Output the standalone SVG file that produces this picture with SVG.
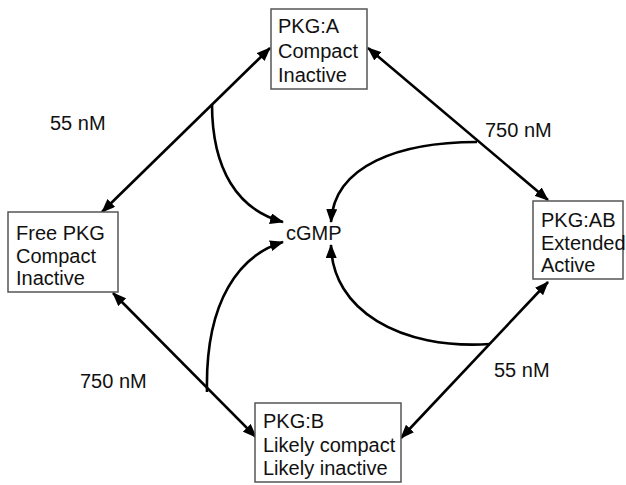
<svg xmlns="http://www.w3.org/2000/svg" width="626" height="485" viewBox="0 0 626 485">
<style>
.box{fill:#fff;stroke:#555;stroke-width:1.5}
.t{font-family:"Liberation Sans",Arial,sans-serif;font-size:20px;fill:#111}
.c{fill:none;stroke:#000;stroke-width:2.6}
</style>
<defs>
<marker id="ah" viewBox="0 0 14 11" refX="13" refY="5.5" markerWidth="14" markerHeight="11" markerUnits="userSpaceOnUse" orient="auto-start-reverse">
<path d="M0,0 L14,5.5 L0,11 z" fill="#000"/>
</marker>
</defs>
<rect width="626" height="485" fill="#fff"/>
<g id="connectors">
<path class="c" d="M270,48 L102,212" marker-start="url(#ah)" marker-end="url(#ah)"/>
<path class="c" d="M368,48 L548,200" marker-start="url(#ah)" marker-end="url(#ah)"/>
<path class="c" d="M548,282 L401,438" marker-start="url(#ah)" marker-end="url(#ah)"/>
<path class="c" d="M113,293 L256,437" marker-start="url(#ah)" marker-end="url(#ah)"/>
<path class="c" d="M212,104 C212,170 238,210 283,222" marker-end="url(#ah)"/>
<path class="c" d="M477,142 C400,142 334,165 331,222" marker-end="url(#ah)"/>
<path class="c" d="M490,344 C400,350 332,310 331,245" marker-end="url(#ah)"/>
<path class="c" d="M207,392 C205,300 240,255 283,242" marker-end="url(#ah)"/>
</g>
<g id="pkgA">
<rect class="box" x="271" y="9" width="96" height="80"/>
<text class="t" x="278" y="33">PKG:A</text>
<text class="t" x="278" y="58">Compact</text>
<text class="t" x="278" y="82">Inactive</text>
</g>
<g id="freePKG">
<rect class="box" x="8" y="212" width="110" height="80"/>
<text class="t" x="16" y="240">Free PKG</text>
<text class="t" x="16" y="263">Compact</text>
<text class="t" x="16" y="285">Inactive</text>
</g>
<g id="pkgAB">
<rect class="box" x="533" y="201" width="90" height="78"/>
<text class="t" x="541" y="227">PKG:AB</text>
<text class="t" x="541" y="250">Extended</text>
<text class="t" x="541" y="272">Active</text>
</g>
<g id="pkgB">
<rect class="box" x="255" y="403" width="146" height="79"/>
<text class="t" x="263" y="428">PKG:B</text>
<text class="t" x="263" y="452">Likely compact</text>
<text class="t" x="263" y="475">Likely inactive</text>
</g>
<g id="cGMP">
<text class="t" x="286" y="240">cGMP</text>
</g>
<g id="labels">
<text class="t" x="50" y="130">55 nM</text>
<text class="t" x="485" y="137">750 nM</text>
<text class="t" x="80" y="388">750 nM</text>
<text class="t" x="494" y="377">55 nM</text>
</g>
</svg>
